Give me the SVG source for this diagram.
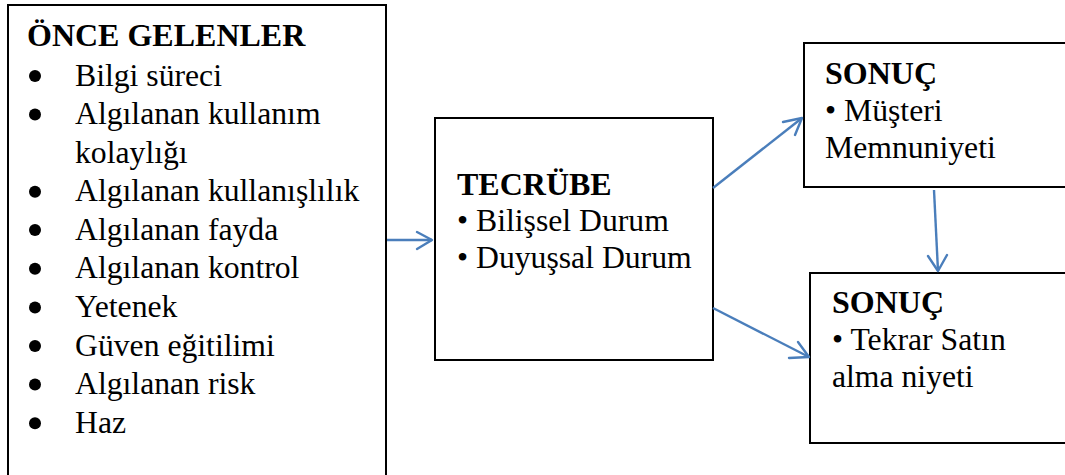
<svg xmlns="http://www.w3.org/2000/svg" width="1065" height="475" viewBox="0 0 1065 475">
  <style>
    .box { fill: #fff; stroke: #000; stroke-width: 2; }
    text { font-family: 'Liberation Serif', 'Times New Roman', 'DejaVu Serif', serif; fill: #000; }
    .t { font-size: 31.7px; }
    .h { font-size: 32px; font-weight: bold; }
    .dot { fill: #000; }
    .link { fill: none; stroke: #4a7ebb; stroke-width: 2.4; }
    .head { fill: none; stroke: #4a7ebb; stroke-width: 2.4; stroke-linecap: round; stroke-linejoin: round; }
  </style>
  <rect width="1065" height="475" fill="#fff"/>

  <!-- left box: list of antecedents -->
  <g id="antecedents">
    <rect class="box" x="8" y="5" width="378" height="490"/>
    <text class="h" x="27" y="46">ÖNCE GELENLER</text>
    <!-- list markers -->
    <g class="dot">
      <circle cx="35" cy="76" r="6"/>
      <circle cx="35" cy="114.6" r="6"/>
      <circle cx="35" cy="191.8" r="6"/>
      <circle cx="35" cy="230" r="6"/>
      <circle cx="35" cy="268.8" r="6"/>
      <circle cx="35" cy="307.5" r="6"/>
      <circle cx="35" cy="346" r="6"/>
      <circle cx="35" cy="384.5" r="6"/>
      <circle cx="35" cy="423.2" r="6"/>
    </g>
    <text class="t" x="75" y="85.5">Bilgi süreci</text>
    <text class="t" x="75" y="124.1">Algılanan kullanım</text>
    <text class="t" x="75" y="162.7">kolaylığı</text>
    <text class="t" x="75" y="201.3">Algılanan kullanışlılık</text>
    <text class="t" x="75" y="239.5">Algılanan fayda</text>
    <text class="t" x="75" y="278.3">Algılanan kontrol</text>
    <text class="t" x="75" y="317">Yetenek</text>
    <text class="t" x="75" y="355.5">Güven eğitilimi</text>
    <text class="t" x="75" y="394">Algılanan risk</text>
    <text class="t" x="75" y="432.7">Haz</text>
  </g>

  <!-- middle box -->
  <g id="experience">
    <rect class="box" x="435" y="118" width="278" height="242"/>
    <text class="h" x="457" y="195">TECRÜBE</text>
    <text class="t" x="457" y="231">• Bilişsel Durum</text>
    <text class="t" x="457" y="268">• Duyuşsal Durum</text>
  </g>

  <!-- upper right box -->
  <g id="outcome-satisfaction">
    <rect class="box" x="804" y="43" width="270" height="144"/>
    <text class="h" x="825" y="84">SONUÇ</text>
    <text class="t" x="825" y="121">• Müşteri</text>
    <text class="t" x="825" y="158">Memnuniyeti</text>
  </g>

  <!-- lower right box -->
  <g id="outcome-repurchase">
    <rect class="box" x="810" y="273" width="270" height="170"/>
    <text class="h" x="832" y="313">SONUÇ</text>
    <text class="t" x="832" y="350">• Tekrar Satın</text>
    <text class="t" x="832" y="387">alma niyeti</text>
  </g>

  <!-- arrows with open chevron heads -->
  <g id="connectors">
    <line class="link" x1="387" y1="240" x2="432" y2="240"/>
    <polyline class="head" points="417,232 432,240 417,249"/>

    <line class="link" x1="713" y1="188" x2="802" y2="118"/>
    <polyline class="head" points="783,122 802,118 795,135"/>

    <line class="link" x1="713" y1="308" x2="809" y2="357"/>
    <polyline class="head" points="798,342 809,357 789,358"/>

    <line class="link" x1="934" y1="190" x2="938" y2="271"/>
    <polyline class="head" points="928,256 938,271 947,255"/>
  </g>
</svg>
